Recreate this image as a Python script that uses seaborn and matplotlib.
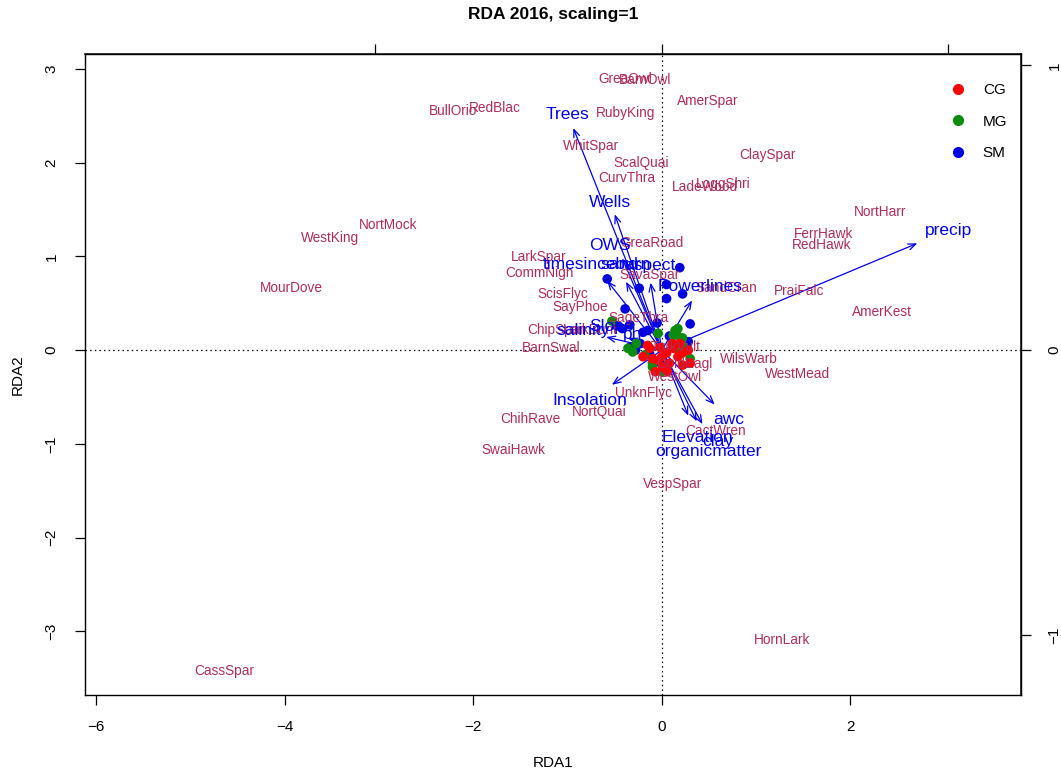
import numpy as np
import pandas as pd
import matplotlib
matplotlib.use("Agg")
import matplotlib.pyplot as plt
import seaborn as sns

# ---- site scores (RDA1, RDA2) by grazing group ----
sm_x = [-0.58, -0.24, 0.19, 0.05, 0.05, 0.22, -0.39, 0.30, -0.48, -0.42, -0.34,
        -0.20, -0.05, -0.15, -0.23, -0.13, 0.22, 0.28, -0.28, -0.02, 0.08, -0.32]
sm_y = [0.76, 0.66, 0.88, 0.70, 0.55, 0.60, 0.44, 0.28, 0.26, 0.23, 0.27,
        0.19, 0.29, 0.21, 0.07, -0.04, 0.07, 0.09, 0.00, -0.13, 0.15, 0.03]
mg_x = [-0.53, 0.14, 0.16, -0.04, -0.27, -0.31, -0.18, -0.10, 0.19, 0.22, 0.17,
        0.12, 0.22, -0.10, 0.00, -0.36, 0.30]
mg_y = [0.31, 0.21, 0.16, 0.18, 0.07, -0.02, -0.05, -0.14, -0.03, 0.13, 0.23,
        0.16, 0.05, -0.18, -0.23, 0.02, -0.09]
cg_x = [-0.20, -0.15, -0.04, 0.05, 0.08, 0.17, 0.22, 0.30, 0.01, -0.10, 0.12,
        0.22, 0.06, -0.02, -0.07, 0.19, -0.13, 0.11, 0.28, 0.00]
cg_y = [-0.07, 0.05, -0.11, -0.03, -0.14, -0.07, -0.03, -0.14, -0.18, -0.09, 0.02,
        -0.16, -0.23, 0.03, -0.23, 0.07, 0.02, 0.07, 0.00, -0.07]

# ---- species scores ----
species = ["GreaOwl", "BarnOwl", "AmerSpar", "BullOrio", "RedBlac", "RubyKing",
           "WhitSpar", "ScalQuai", "ClaySpar", "CurvThra", "LadeWood", "LoggShri",
           "GreaRoad", "NortMock", "WestKing", "MourDove", "NortHarr", "FerrHawk",
           "RedHawk", "PraiFalc", "AmerKest", "LarkSpar", "CommNigh", "SavaSpar",
           "SandCran", "ScisFlyc", "SayPhoe", "SageThra", "ChipSpar", "LarkBunt",
           "BarnSwal", "TurkVult", "GoldEagl", "WestOwl", "WilsWarb", "WestMead",
           "UnknFlyc", "NortQuai", "ChihRave", "SwaiHawk", "CactWren", "VespSpar",
           "HornLark", "CassSpar"]
sp_x = [-0.39, -0.18, 0.49, -2.21, -1.77, -0.39,
        -0.75, -0.22, 1.12, -0.37, 0.46, 0.65,
        -0.10, -2.90, -3.52, -3.93, 2.31, 1.72,
        1.69, 1.46, 2.33, -1.31, -1.30, -0.13,
        0.68, -1.05, -0.87, -0.25, -1.13, -0.76,
        -1.17, 0.15, 0.24, 0.14, 0.92, 1.44,
        -0.20, -0.66, -1.39, -1.57, 0.57, 0.11,
        1.27, -4.64]
sp_y = [2.89, 2.88, 2.66, 2.55, 2.58, 2.53,
        2.18, 2.00, 2.08, 1.84, 1.74, 1.77,
        1.14, 1.33, 1.20, 0.66, 1.47, 1.24,
        1.12, 0.63, 0.41, 0.99, 0.82, 0.80,
        0.66, 0.60, 0.46, 0.34, 0.21, 0.21,
        0.02, 0.03, -0.15, -0.29, -0.09, -0.25,
        -0.46, -0.66, -0.74, -1.07, -0.86, -1.43,
        -3.09, -3.42]

# ---- environmental biplot arrows (tips) and their label positions ----
env = ["Trees", "Wells", "OWS", "timesinceburn", "sand", "aspect", "Powerlines",
       "salinity", "Slope", "ph", "Insolation", "awc", "Elevation", "clay",
       "organicmatter", "precip"]
env_x = [-0.94, -0.50, -0.42, -0.58, -0.38, -0.12, 0.32,
         -0.59, -0.36, -0.38, -0.53, 0.56, 0.28, 0.43, 0.37, 2.71]
env_y = [2.37, 1.45, 0.98, 0.74, 0.73, 0.72, 0.53,
         0.14, 0.13, 0.07, -0.37, -0.58, -0.70, -0.79, -0.76, 1.14]
env_lab_x = [-1.00, -0.55, -0.55, -0.69, -0.45, -0.13, 0.41,
             -0.84, -0.53, -0.31, -0.76, 0.71, 0.38, 0.59, 0.49, 3.04]
env_lab_y = [2.51, 1.58, 1.12, 0.91, 0.91, 0.90, 0.68,
             0.21, 0.25, 0.17, -0.54, -0.74, -0.93, -0.98, -1.08, 1.28]

groups = ["CG", "MG", "SM"]
sites = pd.DataFrame({
    "RDA1": cg_x + mg_x + sm_x,
    "RDA2": cg_y + mg_y + sm_y,
    "group": ["CG"] * len(cg_x) + ["MG"] * len(mg_x) + ["SM"] * len(sm_x),
})

sns.set_theme(style="white")
plt.rcParams["font.family"] = ["Liberation Sans", "DejaVu Sans"]
plt.rcParams.update({
    "text.color": "black",
    "axes.labelcolor": "black",
    "xtick.color": "black",
    "ytick.color": "black",
})

fig = plt.figure(figsize=(10.61, 7.76), dpi=100)
ax = fig.add_axes([0.0801, 0.1044, 0.8822, 0.8260])

sp_col = "#B02C5C"
env_col = "#0000EE"
palette = {"CG": "#FF0000", "MG": "#0C8C0C", "SM": "#0000E0"}

# reference lines through the origin
ax.axhline(0, color="black", lw=0.9, ls=(0, (1.2, 2.5)), zorder=1)
ax.axvline(0, color="black", lw=0.9, ls=(0, (1.2, 2.5)), zorder=1)

# environmental arrows
for x, y in zip(env_x, env_y):
    ax.annotate("", xy=(x, y), xytext=(0, 0),
                arrowprops=dict(arrowstyle="->,head_length=0.45,head_width=0.18",
                                color=env_col, lw=0.9, shrinkA=0, shrinkB=0),
                zorder=2)

# sites, drawn so that CG sits on top
draw_order = ["SM", "MG", "CG"]
for g in draw_order:
    sns.scatterplot(data=sites[sites["group"] == g], x="RDA1", y="RDA2",
                    color=palette[g], s=48, edgecolor="none", ax=ax,
                    legend=False, zorder=3)

# species labels
for name, x, y in zip(species, sp_x, sp_y):
    ax.text(x, y, name, color=sp_col, fontsize=9.8, ha="center", va="center",
            zorder=4)

# environmental labels
for name, x, y in zip(env, env_lab_x, env_lab_y):
    ax.text(x, y, name, color=env_col, fontsize=12.5, ha="center", va="center",
            zorder=5)

ax.set_xlim(-6.12, 3.81)
ax.set_ylim(-3.68, 3.16)
ax.set_xticks([-6, -4, -2, 0, 2])
ax.set_yticks([-3, -2, -1, 0, 1, 2, 3])
ax.set_xticklabels(["\u22126", "\u22124", "\u22122", "0", "2"])
ax.set_yticklabels(["\u22123", "\u22122", "\u22121", "0", "1", "2", "3"],
                   rotation=90, va="center")
ax.tick_params(axis="both", direction="out", length=7, width=0.9,
               colors="black", labelsize=11, bottom=True, left=True)
ax.tick_params(axis="x", pad=11)
ax.tick_params(axis="y", pad=12)
ax.set_xlabel("")
ax.set_ylabel("")
for s in ax.spines.values():
    s.set_color("black")
    s.set_linewidth(1.0)

# secondary scales for the biplot arrows
mul = 3.04
top = ax.secondary_xaxis("top", functions=(lambda v: v / mul, lambda v: v * mul))
top.set_xticks([-1, 0, 1])
top.set_xticklabels([])
top.tick_params(direction="out", length=7, width=0.9, colors="black")
right = ax.secondary_yaxis("right", functions=(lambda v: v / mul, lambda v: v * mul))
right.set_yticks([-1, 0, 1])
right.set_yticklabels(["\u22121", "0", "1"], rotation=90, va="center")
right.tick_params(direction="out", length=7, width=0.9, colors="black",
                  labelsize=11, pad=12)

# legend
handles = [plt.Line2D([], [], marker="o", ls="none", color=palette[g],
                      markersize=7) for g in groups]
leg = ax.legend(handles, groups, loc="upper right", frameon=False, fontsize=11,
                labelspacing=1.15, handletextpad=0.6, borderaxespad=0.5,
                bbox_to_anchor=(1.0, 0.976))
for t in leg.get_texts():
    t.set_color("black")

fig.text(553 / 1061, 1 - 15 / 776, "RDA 2016, scaling=1", fontsize=12.5,
         fontweight="bold", ha="center", va="center")
fig.text(553 / 1061, 1 - 763 / 776, "RDA1", fontsize=11, ha="center",
         va="center")
fig.text(18 / 1061, 1 - 375 / 776, "RDA2", fontsize=11, ha="center",
         va="center", rotation=90)

fig.savefig("out.png", dpi=100)
